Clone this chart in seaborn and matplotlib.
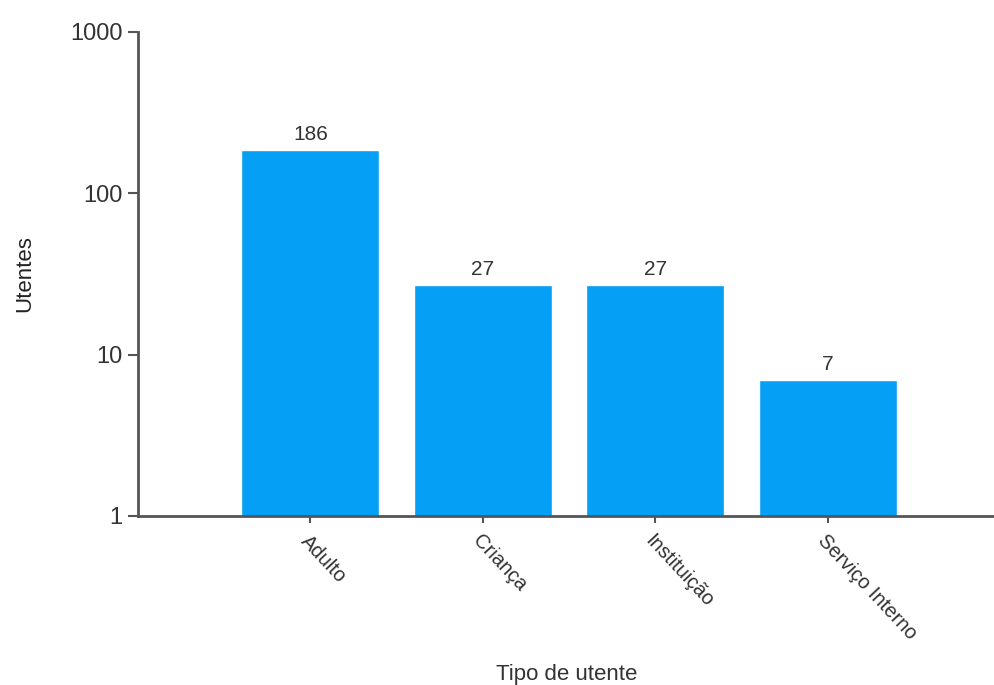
import numpy as np
import pandas as pd
import matplotlib
matplotlib.use('Agg')
import matplotlib.pyplot as plt
import seaborn as sns
from matplotlib.ticker import FixedLocator, FixedFormatter, NullLocator

#%% data
categorias = ['Adulto', 'Criança', 'Instituição', 'Serviço Interno']
utentes = [186, 27, 27, 7]
yticks = [1, 10, 100, 1000]
ytick_labels = ['1', '10', '100', '1000']

df = pd.DataFrame({'tipo': categorias, 'utentes': utentes})

#%% plot
sns.set_style('white')
plt.rcParams['font.family'] = ['Liberation Sans', 'DejaVu Sans']

fig = plt.figure(figsize=(9.95, 6.85), dpi=100)
ax = fig.add_axes([138/995, 1-516/685, (995-138)/995, (516-32)/685])

sns.barplot(data=df, x='tipo', y='utentes', color='#05a0f6', width=0.8,
            saturation=1, ax=ax, log_scale=(False, True))
ax.set_yscale('log')
ax.set_ylim(1, 1000)
ax.set_xlim(-1.0, 3.97)

ax.yaxis.set_major_locator(FixedLocator(yticks))
ax.yaxis.set_major_formatter(FixedFormatter(ytick_labels))
ax.yaxis.set_minor_locator(NullLocator())

for i, v in enumerate(utentes):
    ax.text(i, v * 1.09, str(v), ha='center', va='bottom', fontsize=15, color='#333333')

ax.set_xticks(range(len(categorias)))
ax.set_xticklabels(categorias, rotation=-47, ha='left', rotation_mode='anchor',
                   fontsize=14.5, color='#333333')
ax.tick_params(axis='y', labelsize=17, labelcolor='#333333', length=7, width=1.5,
               color='#555555', direction='out', left=True, pad=4)
ax.tick_params(axis='x', length=5, width=1.5, color='#555555', direction='out', bottom=True, pad=6)

sns.despine(ax=ax, top=True, right=True)
for s in ['left', 'bottom']:
    ax.spines[s].set_color('#555555')
    ax.spines[s].set_linewidth(2)

ax.set_ylabel('Utentes', fontsize=16, color='#222222')
ax.yaxis.set_label_coords(-0.12, 0.5)
ax.set_xlabel('Tipo de utente', fontsize=16, color='#333333')
ax.xaxis.set_label_coords(0.5, -0.305)

fig.savefig('out.png', dpi=100)
